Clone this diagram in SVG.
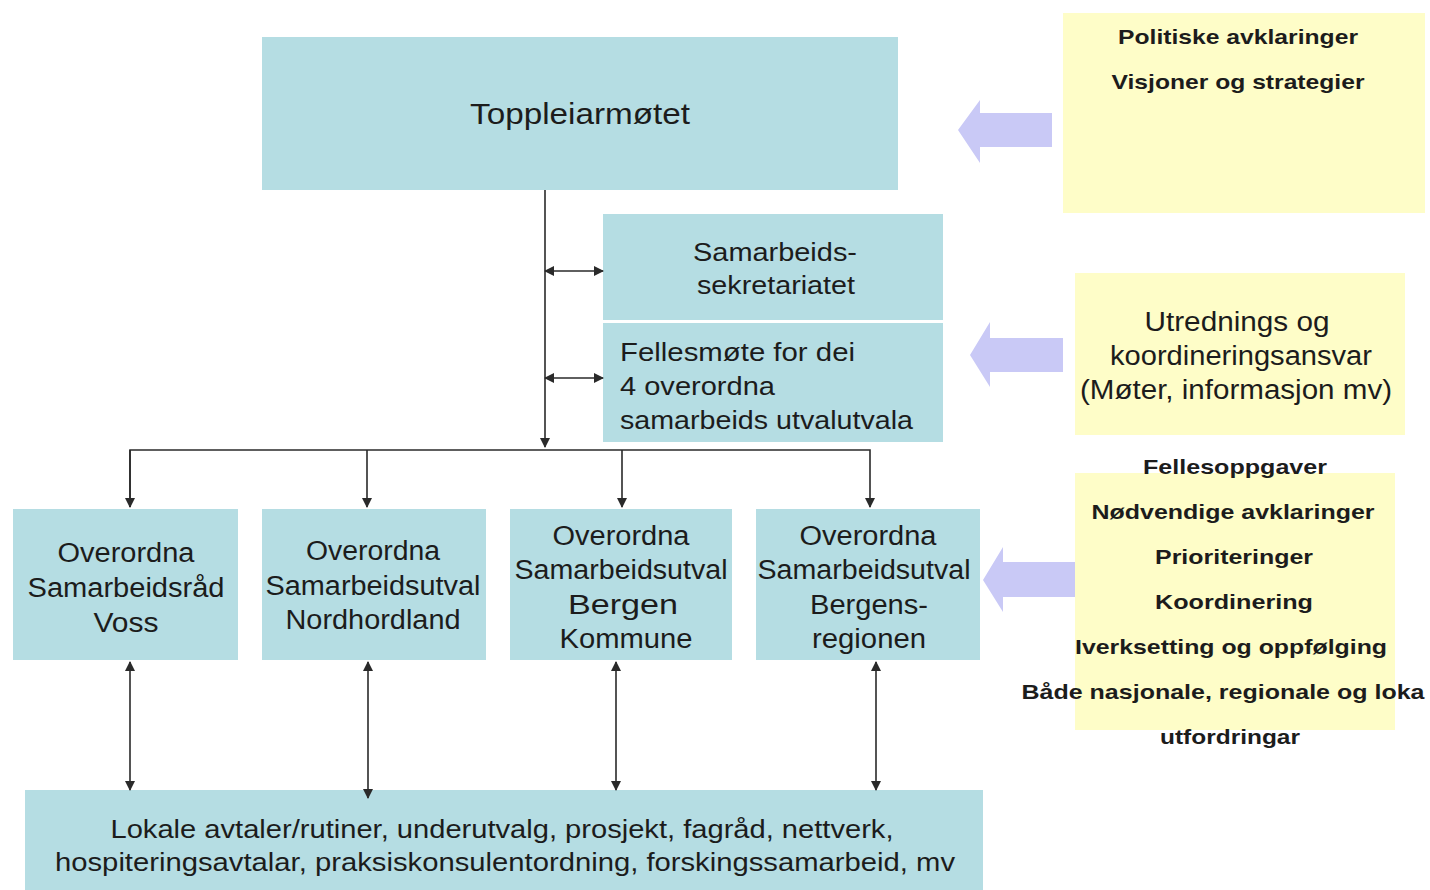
<svg xmlns="http://www.w3.org/2000/svg" width="1430" height="890" viewBox="0 0 1430 890">
<style>
.box{fill:#b5dde3}
.note{fill:#fefdc8}
.big{fill:#c9c9f6}
text{font-family:"Liberation Sans",Arial,sans-serif;fill:#1c1c1c;text-anchor:middle}
.t{font-size:27px}
.b{font-size:21px;font-weight:bold}
.ln{stroke:#2a2a2a;stroke-width:1.6;fill:none}
</style>
<defs>
<marker id="ah" viewBox="0 0 10 10" refX="9" refY="5" markerWidth="10" markerHeight="10" markerUnits="userSpaceOnUse" orient="auto-start-reverse">
<path d="M0,0 L10,5 L0,10 Z" fill="#2a2a2a"/>
</marker>
</defs>
<rect width="1430" height="890" fill="#ffffff"/>

<g id="toppleiarmotet">
<rect class="box" x="262" y="37" width="636" height="153"/>
<text class="t" x="580" y="124" style="font-size:30px" textLength="220" lengthAdjust="spacingAndGlyphs">Toppleiarmøtet</text>
</g>

<g id="sekretariatet">
<rect class="box" x="603" y="214" width="340" height="106"/>
<text class="t" x="775" y="261" style="font-size:26px" textLength="164" lengthAdjust="spacingAndGlyphs">Samarbeids-</text>
<text class="t" x="776" y="294" style="font-size:26px" textLength="158" lengthAdjust="spacingAndGlyphs">sekretariatet</text>
</g>

<g id="fellesmote">
<rect class="box" x="603" y="323" width="340" height="119"/>
<text class="t" x="620" y="361" style="font-size:26px;text-anchor:start" textLength="235" lengthAdjust="spacingAndGlyphs">Fellesmøte for dei</text>
<text class="t" x="620" y="395" style="font-size:26px;text-anchor:start" textLength="155" lengthAdjust="spacingAndGlyphs">4 overordna</text>
<text class="t" x="620" y="429" style="font-size:26px;text-anchor:start" textLength="293" lengthAdjust="spacingAndGlyphs">samarbeids utvalutvala</text>
</g>

<g id="voss">
<rect class="box" x="13" y="509" width="225" height="151"/>
<text class="t" x="126" y="562" textLength="137" lengthAdjust="spacingAndGlyphs">Overordna</text>
<text class="t" x="126" y="597" textLength="197" lengthAdjust="spacingAndGlyphs">Samarbeidsråd</text>
<text class="t" x="126" y="632" textLength="65" lengthAdjust="spacingAndGlyphs">Voss</text>
</g>

<g id="nordhordland">
<rect class="box" x="262" y="509" width="224" height="151"/>
<text class="t" x="373" y="560" textLength="134" lengthAdjust="spacingAndGlyphs">Overordna</text>
<text class="t" x="373" y="595" textLength="215" lengthAdjust="spacingAndGlyphs">Samarbeidsutval</text>
<text class="t" x="373" y="629" textLength="175" lengthAdjust="spacingAndGlyphs">Nordhordland</text>
</g>

<g id="bergen-kommune">
<rect class="box" x="510" y="509" width="222" height="151"/>
<text class="t" x="621" y="545" textLength="137" lengthAdjust="spacingAndGlyphs">Overordna</text>
<text class="t" x="621" y="579" textLength="213" lengthAdjust="spacingAndGlyphs">Samarbeidsutval</text>
<text class="t" x="623" y="614" textLength="110" lengthAdjust="spacingAndGlyphs">Bergen</text>
<text class="t" x="626" y="648" textLength="133" lengthAdjust="spacingAndGlyphs">Kommune</text>
</g>

<g id="bergensregionen">
<rect class="box" x="756" y="509" width="224" height="151"/>
<text class="t" x="868" y="545" textLength="137" lengthAdjust="spacingAndGlyphs">Overordna</text>
<text class="t" x="864" y="579" textLength="213" lengthAdjust="spacingAndGlyphs">Samarbeidsutval</text>
<text class="t" x="869" y="614" textLength="118" lengthAdjust="spacingAndGlyphs">Bergens-</text>
<text class="t" x="869" y="648" textLength="114" lengthAdjust="spacingAndGlyphs">regionen</text>
</g>

<g id="lokale">
<rect class="box" x="25" y="790" width="958" height="100"/>
<text class="t" x="502" y="838" style="font-size:25px" textLength="783" lengthAdjust="spacingAndGlyphs">Lokale avtaler/rutiner, underutvalg, prosjekt, fagråd, nettverk,</text>
<text class="t" x="505" y="871" style="font-size:25px" textLength="900" lengthAdjust="spacingAndGlyphs">hospiteringsavtalar, praksiskonsulentordning, forskingssamarbeid, mv</text>
</g>

<g id="note-politiske">
<rect class="note" x="1063" y="13" width="362" height="200"/>
<text class="b" x="1238" y="44" textLength="240" lengthAdjust="spacingAndGlyphs">Politiske avklaringer</text>
<text class="b" x="1238" y="89" textLength="253" lengthAdjust="spacingAndGlyphs">Visjoner og strategier</text>
<path class="big" d="M1052,113 L980,113 L980,100 L958,130 L980,163 L980,147 L1052,147 Z"/>
</g>

<g id="note-utredning">
<rect class="note" x="1075" y="273" width="330" height="162"/>
<text class="t" x="1237" y="331" textLength="185" lengthAdjust="spacingAndGlyphs">Utrednings og</text>
<text class="t" x="1241" y="365" textLength="262" lengthAdjust="spacingAndGlyphs">koordineringsansvar</text>
<text class="t" x="1236" y="399" textLength="312" lengthAdjust="spacingAndGlyphs">(Møter, informasjon mv)</text>
<path class="big" d="M1063,338 L990,338 L990,322 L970,355 L990,387 L990,372 L1063,372 Z"/>
</g>

<g id="note-fellesoppgaver">
<rect class="note" x="1075" y="473" width="320" height="257"/>
<text class="b" x="1235" y="474" textLength="184" lengthAdjust="spacingAndGlyphs">Fellesoppgaver</text>
<text class="b" x="1233" y="519" textLength="283" lengthAdjust="spacingAndGlyphs">Nødvendige avklaringer</text>
<text class="b" x="1234" y="564" textLength="158" lengthAdjust="spacingAndGlyphs">Prioriteringer</text>
<text class="b" x="1234" y="609" textLength="158" lengthAdjust="spacingAndGlyphs">Koordinering</text>
<text class="b" x="1231" y="654" textLength="312" lengthAdjust="spacingAndGlyphs">Iverksetting og oppfølging</text>
<text class="b" x="1223" y="699" textLength="403" lengthAdjust="spacingAndGlyphs">Både nasjonale, regionale og loka</text>
<text class="b" x="1230" y="744" textLength="140" lengthAdjust="spacingAndGlyphs">utfordringar</text>
<path class="big" d="M1075,562 L1003,562 L1003,547 L983,580 L1003,612 L1003,597 L1075,597 Z"/>
</g>

<g id="connectors">
<line class="ln" x1="545" y1="190" x2="545" y2="447" marker-end="url(#ah)"/>
<line class="ln" x1="545" y1="271" x2="603" y2="271" marker-start="url(#ah)" marker-end="url(#ah)"/>
<line class="ln" x1="545" y1="378" x2="603" y2="378" marker-start="url(#ah)" marker-end="url(#ah)"/>
<polyline class="ln" points="130,507 130,450 870,450 870,507" marker-end="url(#ah)"/>
<line class="ln" x1="130" y1="450" x2="130" y2="507" marker-end="url(#ah)"/>
<line class="ln" x1="367" y1="450" x2="367" y2="507" marker-end="url(#ah)"/>
<line class="ln" x1="622" y1="450" x2="622" y2="507" marker-end="url(#ah)"/>
<line class="ln" x1="130" y1="662" x2="130" y2="790" marker-start="url(#ah)" marker-end="url(#ah)"/>
<line class="ln" x1="368" y1="662" x2="368" y2="798" marker-start="url(#ah)" marker-end="url(#ah)"/>
<line class="ln" x1="616" y1="662" x2="616" y2="790" marker-start="url(#ah)" marker-end="url(#ah)"/>
<line class="ln" x1="876" y1="662" x2="876" y2="790" marker-start="url(#ah)" marker-end="url(#ah)"/>
</g>
</svg>
